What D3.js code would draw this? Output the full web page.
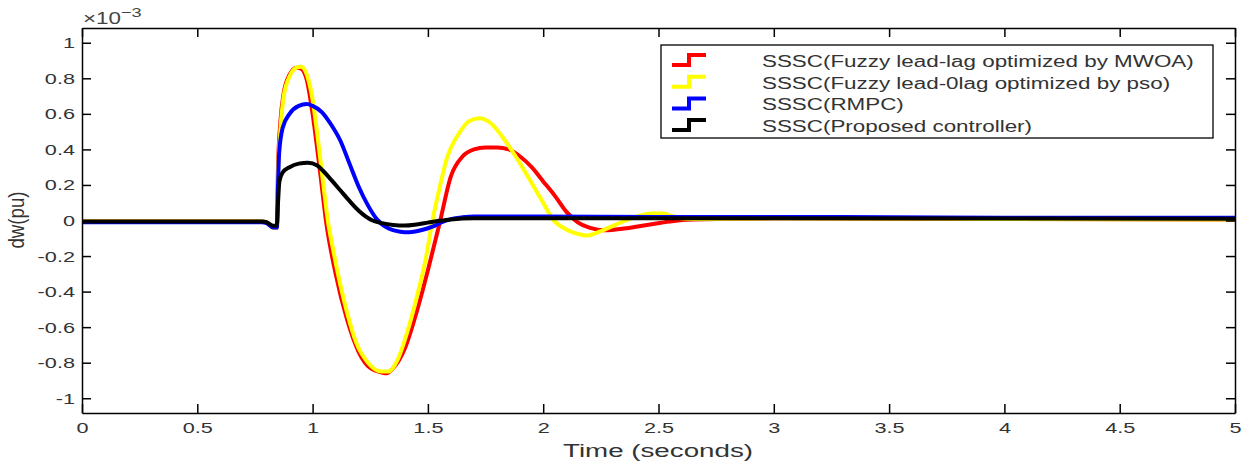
<!DOCTYPE html>
<html>
  <head>
    <meta charset="utf-8">
    <style type="text/css">
      body { margin: 0; background: #fff; }
      svg { font-family: "Liberation Sans", Arial, sans-serif; }
      .axis path, .axis line { stroke: #000; stroke-width: 1.5; }
      .axis text { fill: #333; font-size: 15.5px; }
      .curve { fill: none; stroke-width: 4; stroke-linejoin: round; }
    </style>
  </head>
  <body>
    <script src="https://d3js.org/d3.v7.min.js"></script>
    <script>
      // series (dw in units of 1e-3 pu)
      var mwoaT = [0, 0.78, 0.80, 0.83, 0.845, 0.85, 0.86, 0.875, 0.90, 0.93, 0.95, 0.975, 1.00, 1.03, 1.06, 1.10, 1.15, 1.20, 1.25, 1.30, 1.32, 1.35, 1.40, 1.45, 1.50, 1.55, 1.60, 1.65, 1.70, 1.75, 1.80, 1.85, 1.90, 1.95, 2.00, 2.05, 2.10, 2.15, 2.20, 2.27, 2.35, 2.45, 2.55, 2.65, 3.0, 3.5, 4.0, 5.0];
      var mwoaV = [-0.005, -0.005, -0.01, -0.04, -0.04, 0.30, 0.55, 0.72, 0.82, 0.86, 0.855, 0.79, 0.60, 0.30, -0.02, -0.30, -0.56, -0.74, -0.83, -0.855, -0.86, -0.83, -0.72, -0.52, -0.28, -0.02, 0.25, 0.36, 0.40, 0.41, 0.41, 0.40, 0.36, 0.30, 0.22, 0.14, 0.05, -0.01, -0.04, -0.055, -0.045, -0.025, -0.005, 0.005, 0.012, 0.01, 0.008, 0.006];

      var psoT = [0, 0.78, 0.80, 0.83, 0.845, 0.85, 0.86, 0.875, 0.90, 0.93, 0.95, 0.975, 1.00, 1.02, 1.045, 1.066, 1.09, 1.12, 1.15, 1.19, 1.24, 1.30, 1.33, 1.37, 1.41, 1.45, 1.49, 1.52, 1.55, 1.58, 1.64, 1.68, 1.725, 1.77, 1.84, 1.90, 1.955, 2.00, 2.04, 2.10, 2.15, 2.19, 2.25, 2.32, 2.40, 2.47, 2.52, 2.58, 2.65, 3.0, 4.0, 5.0];
      var psoV = [-0.005, -0.005, -0.01, -0.04, -0.04, 0.25, 0.50, 0.70, 0.81, 0.86, 0.865, 0.82, 0.68, 0.49, 0.22, 0.0, -0.17, -0.36, -0.52, -0.69, -0.80, -0.85, -0.85, -0.78, -0.63, -0.44, -0.22, 0.0, 0.18, 0.34, 0.50, 0.56, 0.575, 0.55, 0.44, 0.32, 0.20, 0.10, 0.01, -0.05, -0.075, -0.085, -0.06, -0.02, 0.02, 0.04, 0.04, 0.015, 0.008, 0.012, 0.008, 0.006];

      var rmpcT = [0, 0.78, 0.80, 0.83, 0.845, 0.85, 0.855, 0.87, 0.90, 0.94, 0.975, 1.00, 1.04, 1.08, 1.12, 1.16, 1.20, 1.24, 1.28, 1.33, 1.38, 1.42, 1.47, 1.52, 1.56, 1.60, 1.65, 1.70, 2.0, 2.5, 3.0, 3.5, 4.0, 5.0];
      var rmpcV = [-0.01, -0.01, -0.015, -0.04, -0.04, 0.20, 0.38, 0.52, 0.60, 0.645, 0.655, 0.645, 0.61, 0.54, 0.45, 0.32, 0.19, 0.085, 0.005, -0.045, -0.063, -0.066, -0.055, -0.035, -0.01, 0.008, 0.018, 0.022, 0.022, 0.02, 0.02, 0.018, 0.016, 0.015];

      var propT = [0, 0.78, 0.80, 0.83, 0.845, 0.85, 0.856, 0.87, 0.90, 0.94, 0.98, 1.02, 1.045, 1.08, 1.12, 1.16, 1.20, 1.26, 1.30, 1.35, 1.40, 1.45, 1.50, 1.55, 1.60, 1.70, 2.0, 3.0, 5.0];
      var propV = [-0.005, -0.005, -0.01, -0.03, -0.03, 0.10, 0.22, 0.27, 0.30, 0.32, 0.325, 0.31, 0.28, 0.23, 0.17, 0.11, 0.055, 0.0, -0.015, -0.025, -0.028, -0.022, -0.012, -0.002, 0.006, 0.012, 0.012, 0.012, 0.01];

      var seriesNames = ["SSSC(Fuzzy lead-lag optimized by MWOA)", "SSSC(Fuzzy lead-0lag optimized by pso)", "SSSC(RMPC)", "SSSC(Proposed controller)"];
      var seriesColors = ["#ff0000", "#ffff00", "#0000ff", "#000000"];
      var xTicks = [0, 0.5, 1, 1.5, 2, 2.5, 3, 3.5, 4, 4.5, 5];
      var yTicks = [-1, -0.8, -0.6, -0.4, -0.2, 0, 0.2, 0.4, 0.6, 0.8, 1];

      var width = 1252, height = 468;
      var plotL = 82, plotR = 1235, plotT = 28, plotB = 413;
      var sx = 1.4; // text in the picture is stretched sideways

      var series = [[mwoaT, mwoaV], [psoT, psoV], [rmpcT, rmpcV], [propT, propV]].map(function(s, i) {
        return { name: seriesNames[i], color: seriesColors[i],
                 pts: s[0].map(function(t, j) { return [t, s[1][j]]; }) };
      });

      var svg = d3.select("body").append("svg")
          .attr("width", width).attr("height", height);

      var x = d3.scaleLinear().domain([0, 5]).range([plotL, plotR]);
      var y = d3.scaleLinear().domain([-1.083, 1.083]).range([plotB, plotT]);

      svg.append("defs").append("clipPath").attr("id", "clip")
        .append("rect").attr("x", plotL).attr("y", plotT)
        .attr("width", plotR - plotL).attr("height", plotB - plotT);

      var line = d3.line()
          .x(function(d) { return x(d[0]); })
          .y(function(d) { return y(d[1]); })
          .curve(d3.curveMonotoneX);

      svg.append("g").attr("clip-path", "url(#clip)")
        .selectAll("path").data(series).enter()
        .append("path")
          .attr("class", "curve")
          .attr("stroke", function(d) { return d.color; })
          .attr("d", function(d) { return line(d.pts); });

      var fmt = function(d) { return String(+d.toFixed(1)); };

      var gx = svg.append("g").attr("class", "axis")
          .attr("transform", "translate(0," + plotB + ")")
          .call(d3.axisBottom(x).tickValues(xTicks).tickFormat(fmt).tickSize(-9).tickSizeOuter(0));
      gx.selectAll("text").attr("y", 20).attr("dy", null)
          .attr("transform", "scale(" + sx + ",1)");

      var gy = svg.append("g").attr("class", "axis")
          .attr("transform", "translate(" + plotL + ",0)")
          .call(d3.axisLeft(y).tickValues(yTicks).tickFormat(fmt).tickSize(-9).tickSizeOuter(0));
      gy.selectAll("text").attr("x", -5)
          .attr("transform", "scale(" + sx + ",1)");

      svg.append("g").attr("class", "axis")
          .attr("transform", "translate(0," + plotT + ")")
          .call(d3.axisTop(x).tickValues(xTicks).tickFormat("").tickSize(-9).tickSizeOuter(0));
      svg.append("g").attr("class", "axis")
          .attr("transform", "translate(" + plotR + ",0)")
          .call(d3.axisRight(y).tickValues(yTicks).tickFormat("").tickSize(-9).tickSizeOuter(0));

      // exponent label
      var ex = svg.append("text")
          .attr("transform", "translate(83,24) scale(" + sx + ",1)")
          .attr("fill", "#444").attr("font-size", "16px");
      ex.append("tspan").text("\u00d710");
      ex.append("tspan").attr("font-size", "13px").attr("dy", -7).text("\u22123");

      svg.append("text")
          .attr("transform", "translate(658,457) scale(1.46,1)")
          .attr("text-anchor", "middle").attr("fill", "#333")
          .attr("font-size", "19px").text("Time (seconds)");

      svg.append("text")
          .attr("transform", "translate(24,220) rotate(-90) scale(1.1,1.35)")
          .attr("text-anchor", "middle").attr("fill", "#333")
          .attr("font-size", "17px").text("dw(pu)");

      // legend
      var lg = svg.append("g");
      lg.append("rect").attr("x", 661).attr("y", 45).attr("width", 552).attr("height", 93)
          .attr("fill", "#fff").attr("stroke", "#000").attr("stroke-width", 1.3);
      var rows = lg.selectAll("g.row").data(series).enter().append("g")
          .attr("transform", function(d, i) { return "translate(0," + (67 + i * 21.7) + ")"; });
      rows.append("path")
          .attr("d", "M672,-2H689V-12H706")
          .attr("fill", "none").attr("stroke-width", 4)
          .attr("stroke", function(d) { return d.color; });
      rows.append("text")
          .attr("transform", "translate(762,0) scale(" + sx + ",1)")
          .attr("fill", "#333").attr("font-size", "16px")
          .text(function(d) { return d.name; });
    </script>
  </body>
</html>
